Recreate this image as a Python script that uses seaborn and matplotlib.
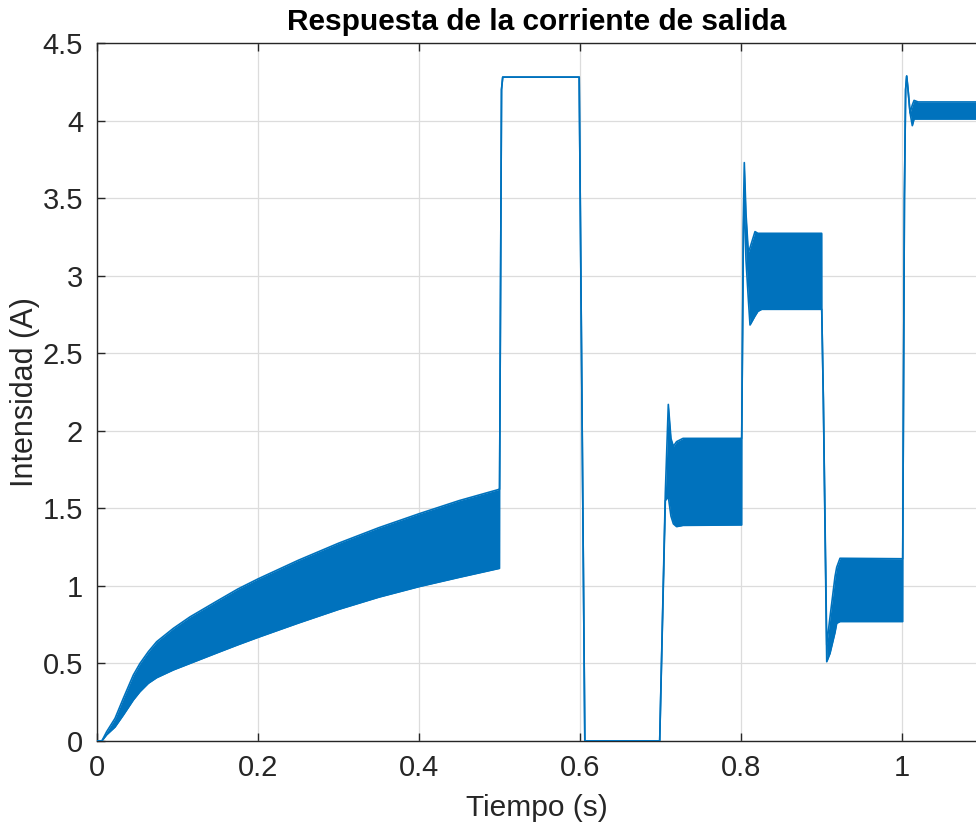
import numpy as np
import pandas as pd
import matplotlib
matplotlib.use("Agg")
import matplotlib.pyplot as plt
import seaborn as sns

# Envelope of the output current (lower / upper edge of the switching ripple band)
time_s = [0.000, 0.006, 0.012, 0.0224, 0.0327, 0.0451, 0.0534, 0.0638, 0.0741, 0.0948,
          0.1155, 0.150, 0.175, 0.200, 0.250, 0.300, 0.350, 0.400, 0.450, 0.5000,
          0.5001, 0.5025, 0.5040, 0.5990, 0.6060, 0.6990,
          0.7060, 0.7097, 0.7130, 0.7160, 0.7200, 0.7280, 0.8008,
          0.8009, 0.8030, 0.8041, 0.8062, 0.8091, 0.8112, 0.8174, 0.8210, 0.8257, 0.9002,
          0.9003, 0.9023, 0.9065, 0.9106, 0.9168, 0.9189, 0.9230, 1.0008,
          1.0009, 1.0030, 1.0045, 1.0058, 1.0075, 1.0100, 1.0128, 1.0150, 1.0200, 1.1000]
lower_a = [0.000, 0.000, 0.040, 0.090, 0.167, 0.264, 0.318, 0.372, 0.408, 0.458,
           0.500, 0.570, 0.620, 0.668, 0.760, 0.848, 0.927, 0.995, 1.055, 1.113,
           1.623, 4.200, 4.280, 4.280, 0.000, 0.000,
           1.550, 1.575, 1.450, 1.400, 1.382, 1.390, 1.393,
           1.951, 3.300, 3.500, 3.100, 2.850, 2.682, 2.740, 2.770, 2.783, 2.783,
           2.783, 2.200, 0.511, 0.565, 0.700, 0.759, 0.770, 0.770,
           1.175, 3.500, 4.200, 4.287, 4.200, 4.050, 3.967, 4.010, 4.010, 4.010]
upper_a = [0.000, 0.000, 0.060, 0.146, 0.275, 0.425, 0.500, 0.576, 0.640, 0.726,
           0.800, 0.905, 0.980, 1.045, 1.165, 1.275, 1.375, 1.465, 1.550, 1.623,
           1.623, 4.200, 4.280, 4.280, 0.000, 0.000,
           1.600, 2.170, 1.950, 1.900, 1.930, 1.951, 1.951,
           1.951, 3.400, 3.729, 3.400, 3.150, 3.180, 3.284, 3.273, 3.273, 3.273,
           2.783, 2.200, 0.620, 0.800, 1.060, 1.120, 1.178, 1.175,
           1.175, 3.500, 4.200, 4.287, 4.200, 4.050, 4.100, 4.130, 4.120, 4.120]

x_ticks = [0, 0.2, 0.4, 0.6, 0.8, 1.0]
x_tick_labels = ["0", "0.2", "0.4", "0.6", "0.8", "1"]
y_ticks = [0, 0.5, 1, 1.5, 2, 2.5, 3, 3.5, 4, 4.5]
y_tick_labels = ["0", "0.5", "1", "1.5", "2", "2.5", "3", "3.5", "4", "4.5"]

title_text = "Respuesta de la corriente de salida"
x_label = "Tiempo (s)"
y_label = "Intensidad (A)"

sns.set_theme(style="whitegrid")
plt.rcParams["font.family"] = ["Liberation Sans", "DejaVu Sans"]

blue = "#0072BD"
dark = "#262626"

fig = plt.figure(figsize=(9.76, 8.30), dpi=100)
ax = fig.add_axes([97 / 976, 89 / 830, 879 / 976, 698 / 830])

df = pd.DataFrame({"t": time_s, "lower": lower_a, "upper": upper_a})
ax.fill_between(df["t"], df["lower"], df["upper"], color=blue, lw=0, zorder=3)
sns.lineplot(data=df, x="t", y="lower", ax=ax, sort=False, estimator=None,
             color=blue, lw=1.2, zorder=4)
sns.lineplot(data=df, x="t", y="upper", ax=ax, sort=False, estimator=None,
             color=blue, lw=1.2, zorder=4)

ax.set_xlim(0, 879 / 805)
ax.set_ylim(0, 4.5)
ax.set_xticks(x_ticks)
ax.set_xticklabels(x_tick_labels)
ax.set_yticks(y_ticks)
ax.set_yticklabels(y_tick_labels)

ax.set_facecolor("white")
ax.grid(True, color="#dcdcdc", lw=0.9)
ax.set_axisbelow(True)
for side in ["left", "bottom", "top"]:
    ax.spines[side].set_visible(True)
    ax.spines[side].set_color(dark)
    ax.spines[side].set_linewidth(1.0)
ax.spines["right"].set_visible(False)

ax.tick_params(axis="both", direction="in", length=6, width=1.0, color=dark,
               labelcolor=dark, labelsize=21, top=True, left=True, bottom=True)
ax.tick_params(axis="x", pad=9)
ax.tick_params(axis="y", pad=10)

ax.set_xlabel(x_label, fontsize=21.5, color=dark, labelpad=9)
ax.set_ylabel(y_label, fontsize=22, color=dark, labelpad=2)
ax.set_title(title_text, fontsize=21.5, fontweight="bold", color="black", pad=9)

fig.savefig("out.png", dpi=100, facecolor="white")
